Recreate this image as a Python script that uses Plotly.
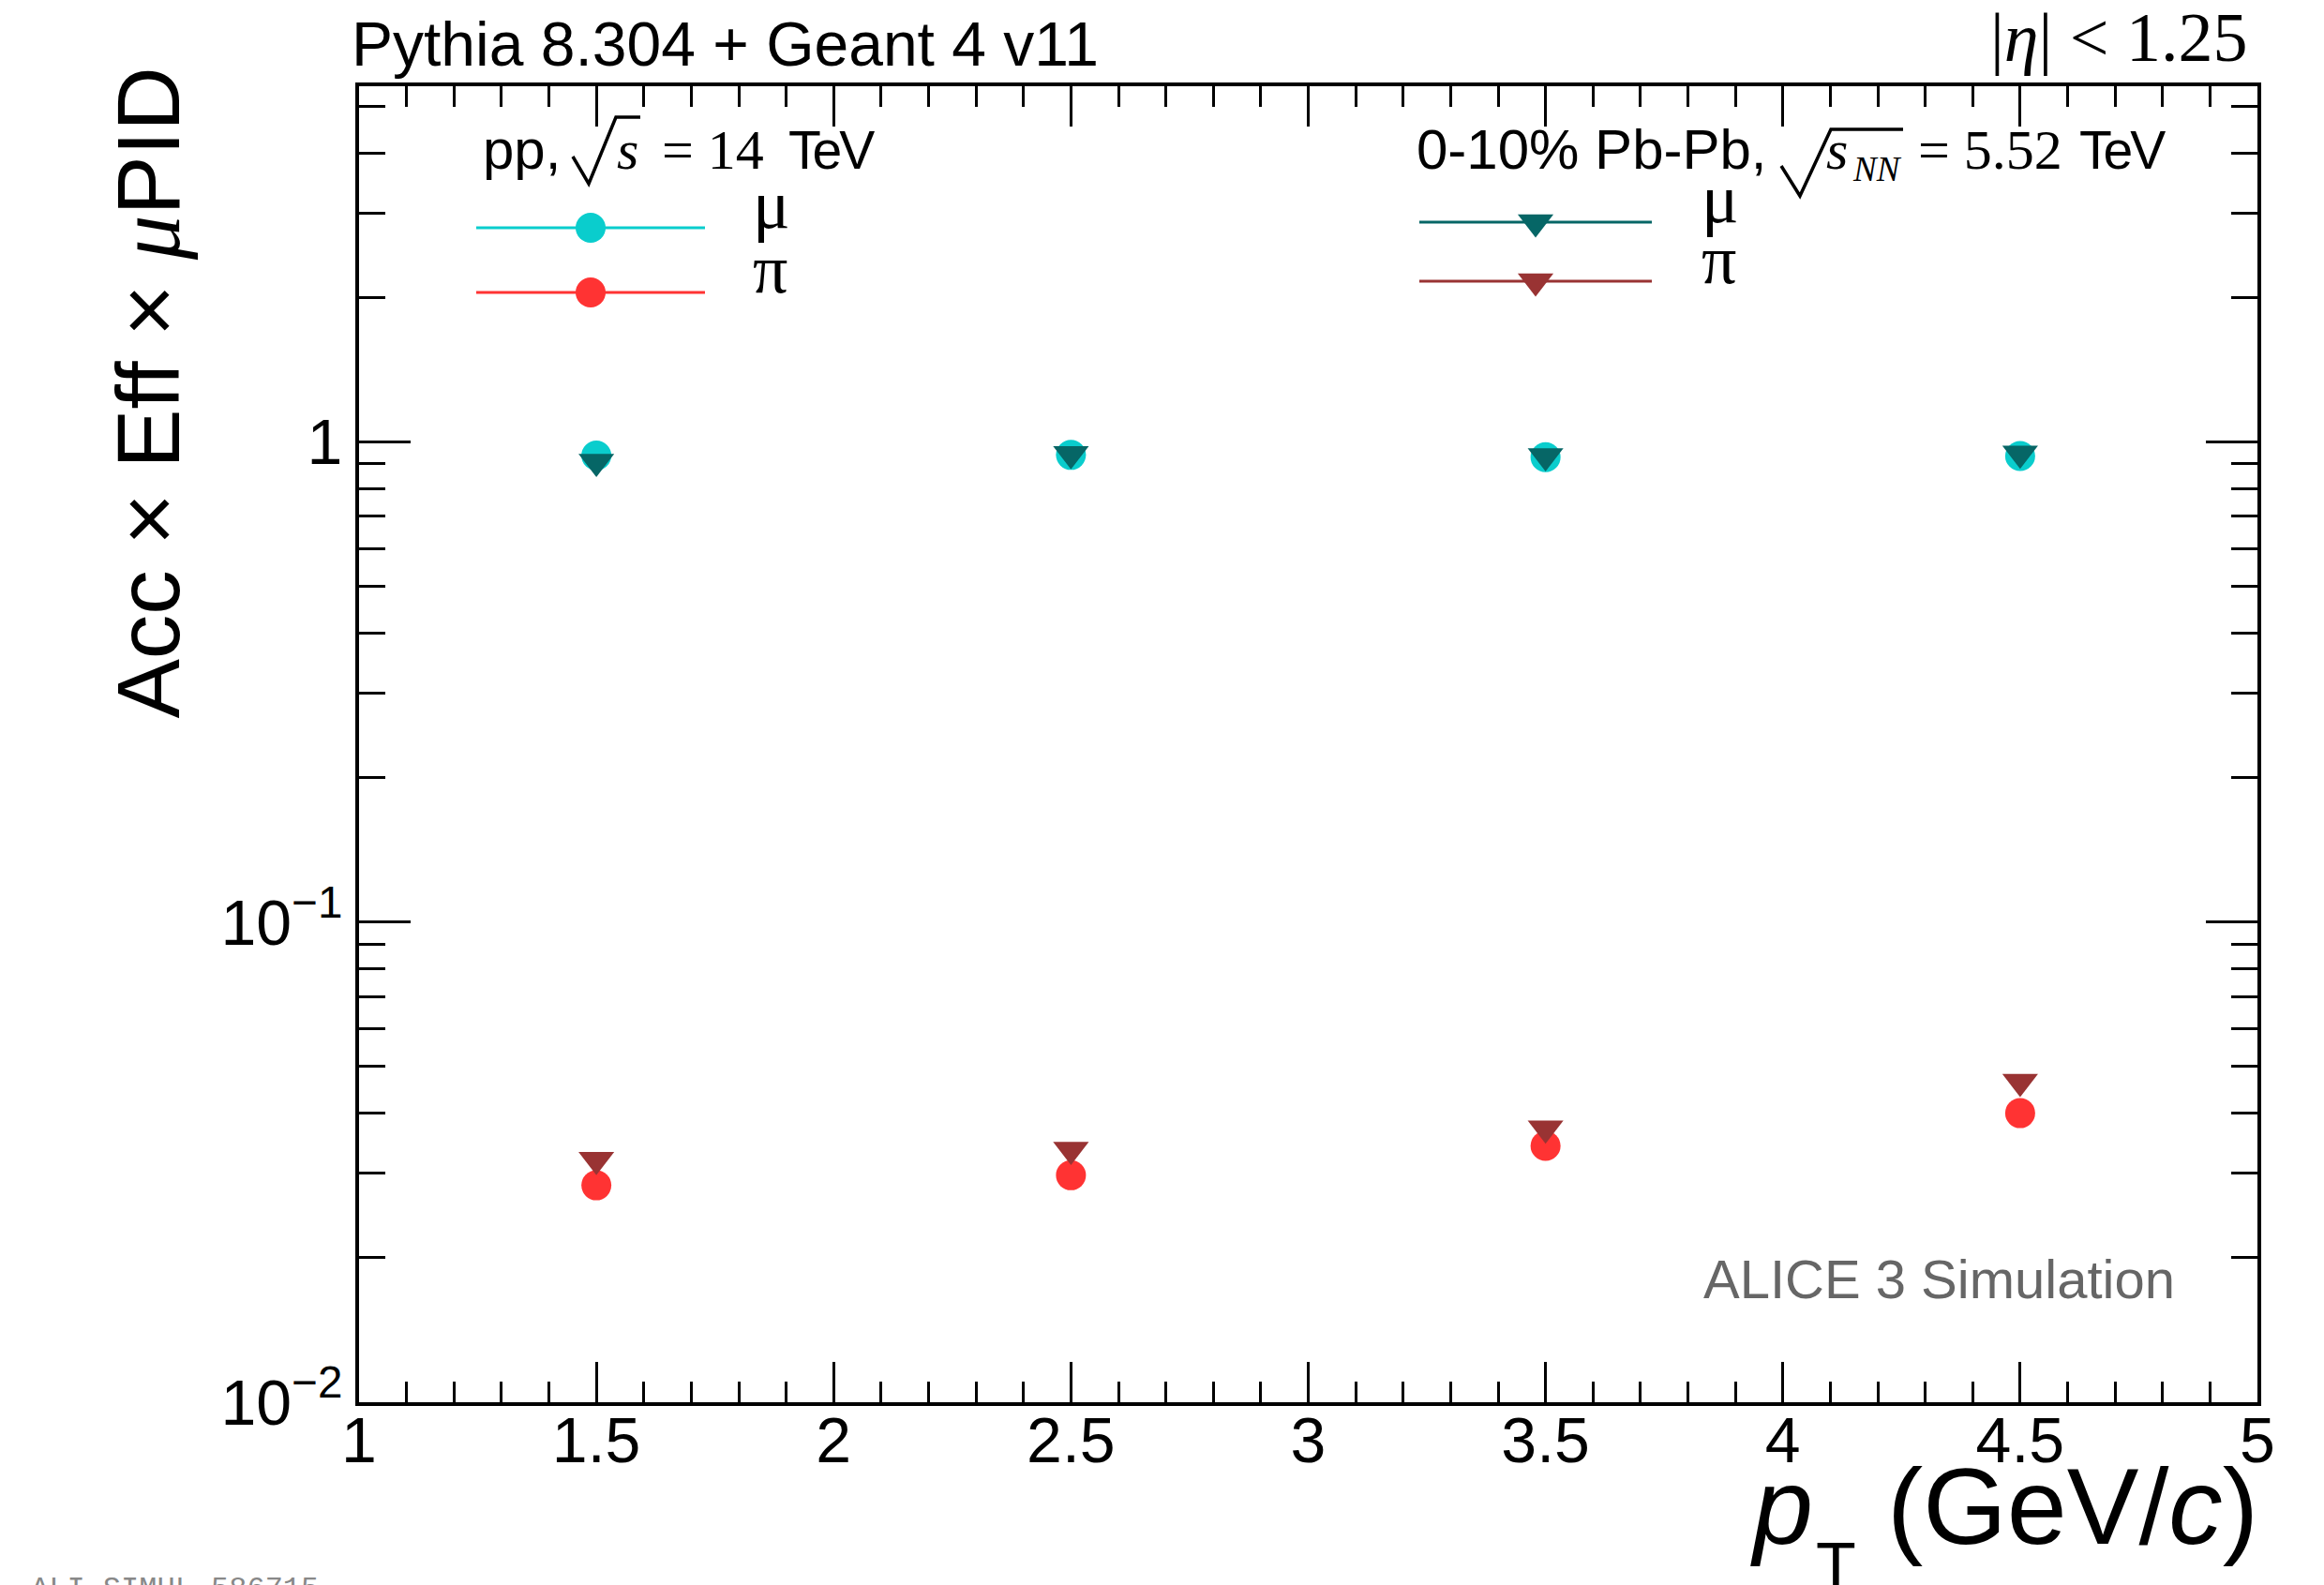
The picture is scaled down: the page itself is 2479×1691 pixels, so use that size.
import plotly.graph_objects as go

# ---------------- data ----------------
pt = [1.5, 2.5, 3.5, 4.5]
pp_mu = [0.937, 0.940, 0.930, 0.935]
pp_pi = [0.0283, 0.0297, 0.0342, 0.0400]
pbpb_mu = [0.910, 0.945, 0.935, 0.947]
pbpb_pi = [0.0320, 0.0336, 0.0372, 0.0465]

x_tickvals = [1, 1.5, 2, 2.5, 3, 3.5, 4, 4.5, 5]
x_ticktext = ["1", "1.5", "2", "2.5", "3", "3.5", "4", "4.5", "5"]
y_tickvals = [0.01, 0.1, 1]
y_ticktext = ["10<sup>\u22122</sup>", "10<sup>\u22121</sup>", "1"]
y_minor = [v * d for d in (0.01, 0.1, 1) for v in range(2, 10) if v * d < 5.6]

# ---------------- styles ----------------
C_PP_MU = "#0ACDCD"
C_PP_PI = "#FF3333"
C_PB_MU = "#066666"
C_PB_PI = "#993333"
SANS = "Liberation Sans"
SERIF = "Liberation Serif"

W, H = 2479, 1691
L, R, T, B = 383, 2408, 92, 1496   # plot frame in pixels


def px(x):
    return (x - L) / (R - L)


def py(y):
    return (B - y) / (B - T)


fig = go.Figure()

# data: circles first, triangles on top
fig.add_trace(go.Scatter(x=pt, y=pp_mu, mode="markers",
                         marker=dict(symbol="circle", size=32, color=C_PP_MU)))
fig.add_trace(go.Scatter(x=pt, y=pp_pi, mode="markers",
                         marker=dict(symbol="circle", size=32, color=C_PP_PI)))
fig.add_trace(go.Scatter(x=pt, y=pbpb_mu, mode="markers",
                         marker=dict(symbol="triangle-down", size=33, color=C_PB_MU)))
fig.add_trace(go.Scatter(x=pt, y=pbpb_pi, mode="markers",
                         marker=dict(symbol="triangle-down", size=33, color=C_PB_PI)))

# legend glyphs on an overlay axis in pixel units
legend_items = [
    (508, 752, 630, 243, C_PP_MU, "circle", 32),
    (508, 752, 630, 312, C_PP_PI, "circle", 32),
    (1514, 1762, 1638, 237, C_PB_MU, "triangle-down", 33),
    (1514, 1762, 1638, 300, C_PB_PI, "triangle-down", 33),
]
for x0, x1, xm, yy, col, sym, sz in legend_items:
    fig.add_trace(go.Scatter(x=[x0, x1], y=[yy, yy], mode="lines",
                             line=dict(color=col, width=3),
                             xaxis="x2", yaxis="y2", hoverinfo="skip"))
    fig.add_trace(go.Scatter(x=[xm], y=[yy], mode="markers",
                             marker=dict(symbol=sym, size=sz, color=col),
                             xaxis="x2", yaxis="y2", hoverinfo="skip"))


def ann(text, x, base, size, family=SANS, color="black", xanchor="left",
        yanchor="middle", angle=0, y=None):
    """Place text; `base` is the wanted baseline in pixels."""
    k = 0.3375 if family == SERIF else 0.3465
    yy = y if y is not None else base - k * size
    fig.add_annotation(text=text, x=px(x), y=py(yy), xref="paper", yref="paper",
                       showarrow=False, xanchor=xanchor, yanchor=yanchor,
                       textangle=angle, borderpad=0,
                       font=dict(family=family, size=size, color=color))


def radical(pts):
    d = "M" + " L".join("%.5f,%.5f" % (px(a), py(b)) for a, b in pts)
    fig.add_shape(type="path", xref="paper", yref="paper", path=d,
                  line=dict(color="black", width=3.5))


TEV = '<span style="letter-spacing:-3px">TeV</span>'

ann("Pythia 8.304 + Geant 4 v11", 374, 70, 66)
ann("|<i>\u03b7</i>| &lt; 1.25", 2399, 65, 74, family=SERIF, xanchor="right")

# pp header
ann("pp,", 514, 180, 60)
radical([(611, 167), (628, 196), (657, 125), (683, 125)])
ann("<i>s</i>", 657, 180, 60, family=SERIF)
ann("= 14", 816, 180, 60, family=SERIF, xanchor="right")
ann(TEV, 840, 180, 57)

# Pb-Pb header
ann("0-10% Pb-Pb,", 1510, 180, 60)
radical([(1900, 177), (1920, 209), (1953, 138), (2030, 138)])
ann("<i>s</i>", 1947, 180, 60, family=SERIF)
ann("<i>NN</i>", 1975, 193, 37, family=SERIF)
ann("= 5.52", 2201, 180, 60, family=SERIF, xanchor="right")
ann(TEV, 2217, 180, 57)

# legend labels
ann("\u03bc", 802, 243, 74, family=SERIF)
ann("\u03c0", 802, 312, 74, family=SERIF)
ann("\u03bc", 1814, 237, 74, family=SERIF)
ann("\u03c0", 1814, 302, 74, family=SERIF)

ann("ALICE 3 Simulation", 2321, None, 58, color="#666666", xanchor="right",
    y=1364)

# axis titles
ann("Acc \u00d7 Eff \u00d7 <span style=\"font-family:%s\"><i>\u03bc</i></span>PID"
    % SERIF, 158, None, 95, xanchor="center", yanchor="top", angle=-90, y=71)
ann("<i>p</i>", 1866, 1647, 115)
ann("T", 1936, 1695, 70)
ann("(GeV/<i>c</i>)", 2410, 1647, 115, xanchor="right")

ann("ALI-SIMUL-586715", 32, None, 32, family="Liberation Mono",
    color="#888888", yanchor="top", y=1676)

axis_common = dict(ticks="inside", tickcolor="black", tickwidth=3,
                   mirror="ticks", showline=True, linewidth=4,
                   linecolor="black", showgrid=False, zeroline=False,
                   tickfont=dict(family=SANS, size=68, color="black"))

fig.update_layout(
    width=W, height=H,
    margin=dict(l=L, r=W - R, t=T, b=H - B, pad=0),
    paper_bgcolor="white", plot_bgcolor="white",
    showlegend=False,
    font=dict(family=SANS, color="black"),
    xaxis=dict(range=[1, 5], tickmode="array", tickvals=x_tickvals,
               ticktext=x_ticktext, ticklen=43, ticklabelstandoff=-22,
               minor=dict(dtick=0.1, tick0=1, ticks="inside", ticklen=22,
                          tickwidth=3, tickcolor="black", showgrid=False),
               **axis_common),
    yaxis=dict(type="log", range=[-2, 0.741], tickmode="array",
               tickvals=y_tickvals, ticktext=y_ticktext, ticklen=55,
               minor=dict(tickmode="array", tickvals=y_minor, ticks="inside",
                          ticklen=28, tickwidth=3, tickcolor="black",
                          showgrid=False),
               **axis_common),
    xaxis2=dict(overlaying="x", anchor="y2", range=[L, R], visible=False,
                fixedrange=True),
    yaxis2=dict(overlaying="y", anchor="x2", range=[B, T], visible=False,
                fixedrange=True),
)

fig.write_html("out.html")
